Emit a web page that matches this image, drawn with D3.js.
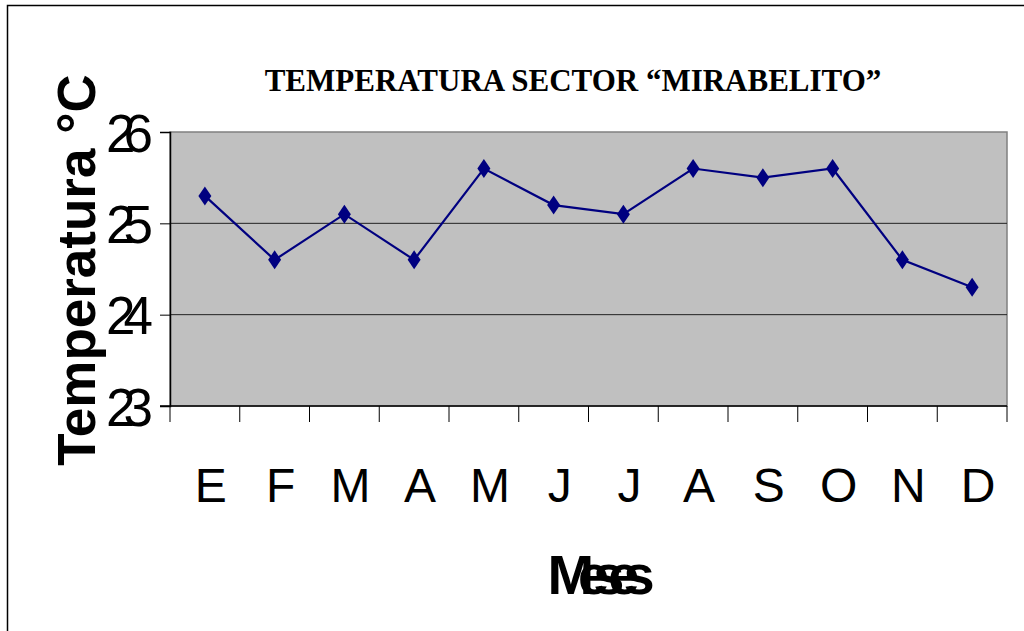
<!DOCTYPE html>
<html>
<head>
<meta charset="utf-8">
<script src="https://cdn.jsdelivr.net/npm/d3@7"></script>
<style>
  body { margin: 0; background: #fff; }
  svg { display: block; }
</style>
</head>
<body>
<svg width="1024" height="631"></svg>
<script>
const months = ['E', 'F', 'M', 'A', 'M', 'J', 'J', 'A', 'S', 'O', 'N', 'D'];
const temps = [25.3, 24.6, 25.1, 24.6, 25.6, 25.2, 25.1, 25.6, 25.5, 25.6, 24.6, 24.3];
const yTicks = [23, 24, 25, 26];
const title = 'TEMPERATURA SECTOR \u201CMIRABELITO\u201D';

const svg = d3.select('svg');
const plotL = 170, plotR = 1007, plotT = 132, plotB = 406;

// outer frame (only top and left edges show)
svg.append('path')
  .attr('d', 'M7.5,631 V5.5 H1024')
  .attr('fill', 'none')
  .attr('stroke', '#000')
  .attr('stroke-width', 1.5);

const x = d3.scaleBand().domain(d3.range(months.length)).range([plotL, plotR]);
const y = d3.scaleLinear().domain([23, 26]).range([plotB, plotT]);

// plot area
svg.append('rect')
  .attr('x', plotL).attr('y', plotT)
  .attr('width', plotR - plotL).attr('height', plotB - plotT)
  .attr('fill', '#c0c0c0')
  .attr('stroke', '#808080')
  .attr('stroke-width', 1.5);

// grid lines
svg.append('g')
  .selectAll('line')
  .data(yTicks.filter(d => d > 23 && d < 26))
  .join('line')
  .attr('x1', plotL).attr('x2', plotR)
  .attr('y1', d => y(d)).attr('y2', d => y(d))
  .attr('stroke', '#222')
  .attr('stroke-width', 1);

// y axis
const yAxis = svg.append('g')
  .attr('transform', `translate(${plotL},0)`)
  .call(d3.axisLeft(y).tickValues(yTicks).tickSize(10).tickPadding(19).tickFormat(d3.format('d')));
yAxis.select('.domain').attr('stroke', '#000').attr('stroke-width', 1.5);
yAxis.selectAll('.tick line').attr('stroke', '#000');
yAxis.selectAll('text')
  .attr('font-family', 'Liberation Sans, Arial, sans-serif')
  .attr('font-size', 53)
  .attr('letter-spacing', -12)
  .attr('dy', '0.36em')
  .attr('fill', '#000');

// x axis: ticks at band boundaries
const xAxis = svg.append('g')
  .attr('transform', `translate(0,${plotB})`);
xAxis.append('line')
  .attr('x1', plotL - 10).attr('x2', plotR)
  .attr('stroke', '#000').attr('stroke-width', 1.5);
xAxis.selectAll('line.tk')
  .data(d3.range(months.length + 1))
  .join('line')
  .attr('class', 'tk')
  .attr('x1', i => i < months.length ? x(i) : plotR)
  .attr('x2', i => i < months.length ? x(i) : plotR)
  .attr('y1', 0).attr('y2', 16)
  .attr('stroke', '#000');
xAxis.selectAll('text')
  .data(months)
  .join('text')
  .attr('x', (d, i) => x(i) + x.bandwidth() / 2 + 6)
  .attr('y', 96)
  .attr('text-anchor', 'middle')
  .attr('font-family', 'Liberation Sans, Arial, sans-serif')
  .attr('font-size', 48)
  .attr('fill', '#000')
  .text(d => d);

// series line
const line = d3.line()
  .x((d, i) => x(i) + x.bandwidth() / 2)
  .y(d => y(d));
svg.append('path')
  .datum(temps)
  .attr('d', line)
  .attr('fill', 'none')
  .attr('stroke', '#000080')
  .attr('stroke-width', 2.2);

svg.append('g')
  .selectAll('path')
  .data(temps)
  .join('path')
  .attr('transform', (d, i) => `translate(${x(i) + x.bandwidth() / 2},${y(d)})`)
  .attr('d', 'M0,-9.5 L6.5,0 L0,9.5 L-6.5,0 Z')
  .attr('fill', '#000080');

// title
svg.append('text')
  .attr('x', 573).attr('y', 91)
  .attr('text-anchor', 'middle')
  .attr('font-family', 'Liberation Serif, Times New Roman, serif')
  .attr('font-weight', 'bold')
  .attr('font-size', 31)
  .attr('fill', '#000')
  .text(title);

// y title
svg.append('text')
  .attr('transform', 'translate(95,270) rotate(-90)')
  .attr('text-anchor', 'middle')
  .attr('font-family', 'Liberation Sans, Arial, sans-serif')
  .attr('font-weight', 'bold')
  .attr('font-size', 53)
  .attr('fill', '#000')
  .text('Temperatura \u00B0C');

// x title
svg.append('text')
  .attr('x', 593).attr('y', 594)
  .attr('text-anchor', 'middle')
  .attr('font-family', 'Liberation Sans, Arial, sans-serif')
  .attr('font-weight', 'bold')
  .attr('font-size', 56)
  .attr('letter-spacing', -16)
  .attr('fill', '#000')
  .text('Meses');
</script>
</body>
</html>
